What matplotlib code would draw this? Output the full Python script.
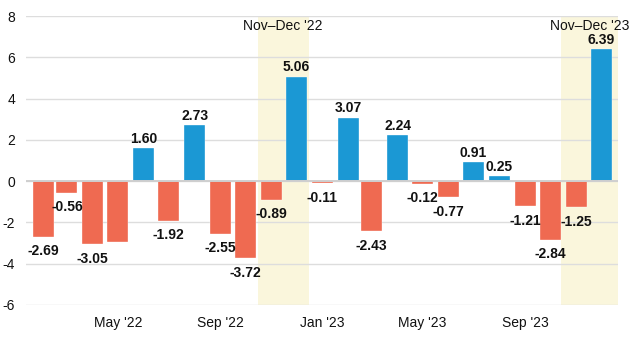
import matplotlib
matplotlib.use("Agg")
import matplotlib.pyplot as plt
import datetime as dt

plt.rcParams['font.family'] = ['Liberation Sans', 'DejaVu Sans']

months = ["2022-02", "2022-03", "2022-04", "2022-05", "2022-06", "2022-07",
          "2022-08", "2022-09", "2022-10", "2022-11", "2022-12", "2023-01",
          "2023-02", "2023-03", "2023-04", "2023-05", "2023-06", "2023-07",
          "2023-08", "2023-09", "2023-10", "2023-11", "2023-12"]
values = [-2.69, -0.56, -3.05, -2.97, 1.60, -1.92, 2.73, -2.55, -3.72, -0.89,
          5.06, -0.11, 3.07, -2.43, 2.24, -0.12, -0.77, 0.91, 0.25, -1.21,
          -2.84, -1.25, 6.39]
labels = ["-2.69", "-0.56", "-3.05", "", "1.60", "-1.92", "2.73", "-2.55",
          "-3.72", "-0.89", "5.06", "-0.11", "3.07", "-2.43", "2.24", "-0.12",
          "-0.77", "0.91", "0.25", "-1.21", "-2.84", "-1.25", "6.39"]
highlights = [("2022-10-16", "2022-12-16", "Nov\u2013Dec '22"),
              ("2023-10-14", "2023-12-21", "Nov\u2013Dec '23")]
xticks = ["2022-05", "2022-09", "2023-01", "2023-05", "2023-09"]
xtick_labels = ["May '22", "Sep '22", "Jan '23", "May '23", "Sep '23"]
yticks = [-6, -4, -2, 0, 2, 4, 6, 8]

BLUE = "#1b98d4"
RED = "#ef6a51"
SHADE = "#faf6dc"

def d(s):
    parts = [int(p) for p in s.split("-")]
    if len(parts) == 2:
        parts.append(1)
    return dt.date(*parts)

dates = [d(m) for m in months]

fig = plt.figure(figsize=(6.4, 3.39), dpi=100)
ax = fig.add_axes([26/640, 1-305/339, (618-26)/640, (305-16)/339])

for s, e, txt in highlights:
    ax.axvspan(d(s), d(e), color=SHADE, zorder=0, lw=0)
    mid = d(s) + (d(e) - d(s)) / 2
    ax.annotate(txt, xy=(mid, 1.0), xycoords=('data', 'axes fraction'),
                xytext=(0, -7.5), textcoords='offset points',
                ha='center', va='center', fontsize=10, color='#111111',
                annotation_clip=False)

colors = [BLUE if v >= 0 else RED for v in values]
ax.bar(dates, values, width=25, color=colors, edgecolor='white',
       linewidth=0.25, zorder=2)

for x, v, lab in zip(dates, values, labels):
    if not lab:
        continue
    off = 3.8 if v >= 0 else -13.4
    ax.annotate(lab, xy=(x, v), xytext=(0, off), textcoords='offset points',
                ha='center', va='baseline', fontsize=10, fontweight='bold',
                color='#111111', zorder=4)

ax.axhline(0, color='#cfcfcf', lw=1.4, zorder=3)

ax.set_ylim(-6, 8)
ax.set_xlim(dt.date(2022, 1, 11), dt.date(2023, 12, 21))
ax.set_yticks(yticks)
ax.set_yticklabels([str(t) for t in yticks])
ax.set_xticks([d(t) for t in xticks])
ax.set_xticklabels(xtick_labels)
ax.grid(axis='y', color='#dddddd', lw=1, zorder=1)
ax.set_axisbelow(True)
for sp in ax.spines.values():
    sp.set_visible(False)
ax.tick_params(axis='both', length=0, labelsize=10, colors='#111111')
ax.tick_params(axis='y', pad=8)
ax.tick_params(axis='x', pad=8)

fig.savefig("out.png", dpi=100)
